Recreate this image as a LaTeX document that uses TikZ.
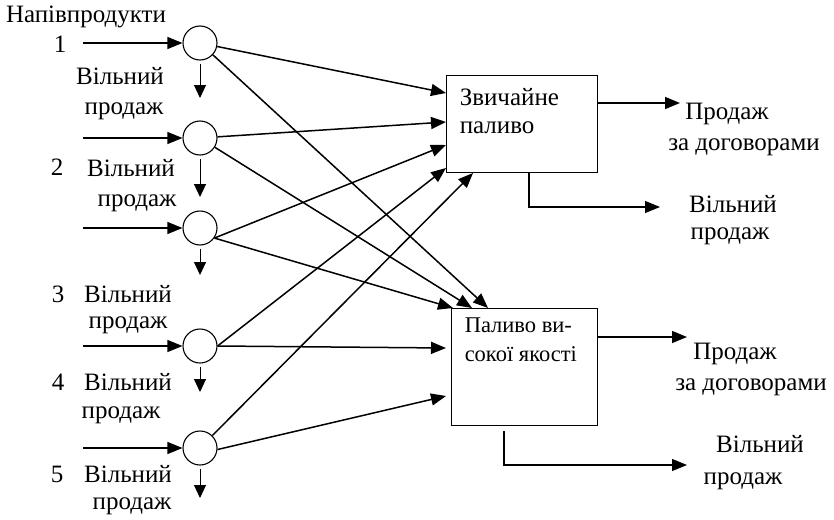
\documentclass[tikz,border=0pt]{standalone}
\usepackage{fontspec}
\setmainfont{Liberation Serif}
\usetikzlibrary{arrows.meta}
\begin{document}
\begin{tikzpicture}[x=1pt,y=-1pt,
  line width=1.5pt,
  arr/.style={-{Triangle[length=15pt,width=12pt]}},
  darr/.style={line width=1pt,-{Triangle[length=13pt,width=12pt]}},
  circ/.style={circle,draw,line width=1.1pt,minimum size=34pt,inner sep=0pt},
  lbl/.style={font=\fontsize{25}{30}\selectfont,inner sep=0pt,anchor=mid},
  blbl/.style={font=\fontsize{25}{30}\selectfont,inner sep=0pt,anchor=mid west},
  slbl/.style={font=\fontsize{22.5}{27}\selectfont,inner sep=0pt,anchor=mid west},
  boxst/.style={draw,line width=1pt,inner sep=0pt,anchor=north west}]
\useasboundingbox (0,0) rectangle (834,519);

% circles
\node[circ] (c1) at (200,43) {};
\node[circ] (c2) at (200,138) {};
\node[circ] (c3) at (200,228) {};
\node[circ] (c4) at (200,346) {};
\node[circ] (c5) at (200,448) {};

% boxes
\node[boxst,minimum width=151pt,minimum height=97pt] (b1) at (446,75) {};
\node[boxst,minimum width=146pt,minimum height=117pt] (b2) at (451,308) {};
\node[blbl] (b1t1) at (459,103) {Звичайне};
\node[blbl] (b1t2) at (459,131) {паливо};
\node[slbl] (b2t1) at (464,330) {Паливо ви-};
\node[slbl] (b2t2) at (464,359) {сокої якості};

% left labels
\node[lbl] (lh) at (86,20) {Напівпродукти};
\node[lbl] (n1) at (60,50) {1};
\node[lbl] (l1a) at (120,82) {Вільний};
\node[lbl] (l1b) at (124,112) {продаж};
\node[lbl] (n2) at (57,173) {2};
\node[lbl] (l2a) at (131,174) {Вільний};
\node[lbl] (l2b) at (137,204) {продаж};
\node[lbl] (n3) at (58,300) {3};
\node[lbl] (l3a) at (128,300) {Вільний};
\node[lbl] (l3b) at (128,326) {продаж};
\node[lbl] (n4) at (58,388) {4};
\node[lbl] (l4a) at (128,388) {Вільний};
\node[lbl] (l4b) at (121,416) {продаж};
\node[lbl] (n5) at (57,480) {5};
\node[lbl] (l5a) at (128,480) {Вільний};
\node[lbl] (l5b) at (132,507) {продаж};

% right labels
\node[lbl] (r1a) at (727,117) {Продаж};
\node[lbl] (r1b) at (744,148) {за договорами};
\node[lbl] (r1c) at (733,210) {Вільний};
\node[lbl] (r1d) at (730,237) {продаж};
\node[lbl] (r2a) at (735,357) {Продаж};
\node[lbl] (r2b) at (751,388) {за договорами};
\node[lbl] (r2c) at (760,450) {Вільний};
\node[lbl] (r2d) at (743,482) {продаж};

% input arrows
\coordinate (i1) at (83,43);
\coordinate (i2) at (83,138);
\coordinate (i3) at (83,228);
\coordinate (i4) at (83,346);
\coordinate (i5) at (83,448);
\foreach \k in {1,...,5} \draw[arr,line width=1.2pt] (i\k) -- (c\k.west);

% down arrows
\coordinate (d1) at (200,98);
\coordinate (d2) at (200,197);
\coordinate (d3) at (200,275);
\coordinate (d4) at (200,392);
\coordinate (d5) at (200,498);
\foreach \k in {1,...,5} \draw[darr,shorten <=3pt] (c\k.south) -- (d\k);

% targets on box 1
\coordinate (t1a) at (446,93);
\coordinate (t1b) at (446,122);
\coordinate (t1c) at (446,145);
\coordinate (t1d) at (446,168);
\coordinate (t1e) at (473,173);
% targets on box 2
\coordinate (t2a) at (453,308);
\coordinate (t2b) at (472,308);
\coordinate (t2c) at (488,308);
\coordinate (t2d) at (446,348);
\coordinate (t2e) at (446,396);

\draw[arr] (c1) -- (t1a);
\draw[arr] (c1) -- (t2c);
\draw[arr] (c2) -- (t1b);
\draw[arr] (c2) -- (t2b);
\draw[arr] (c3.-35) -- (t1c);
\draw[arr] (c3.-35) -- (t2a);
\draw[arr] (c4.east) -- (t1d);
\draw[arr] (c4.east) -- (t2d);
\draw[arr] (c5) -- (t1e);
\draw[arr] (c5.-5) -- (t2e);

% outputs
\coordinate (o1) at (680,103);
\coordinate (o2) at (687,337);
\draw[arr] (b1.east |- o1) -- (o1);
\draw[arr] (b2.east |- o2) -- (o2);
\coordinate (k1) at (529,207);
\coordinate (v1) at (660,207);
\coordinate (k2) at (504,465);
\coordinate (v2) at (687,465);
\draw[arr,line width=1.1pt] (b1.south -| k1) -- (k1) -- (v1);
\draw[arr,line width=1.1pt] ([yshift=-5pt]b2.south -| k2) -- (k2) -- (v2);
\end{tikzpicture}
\end{document}
